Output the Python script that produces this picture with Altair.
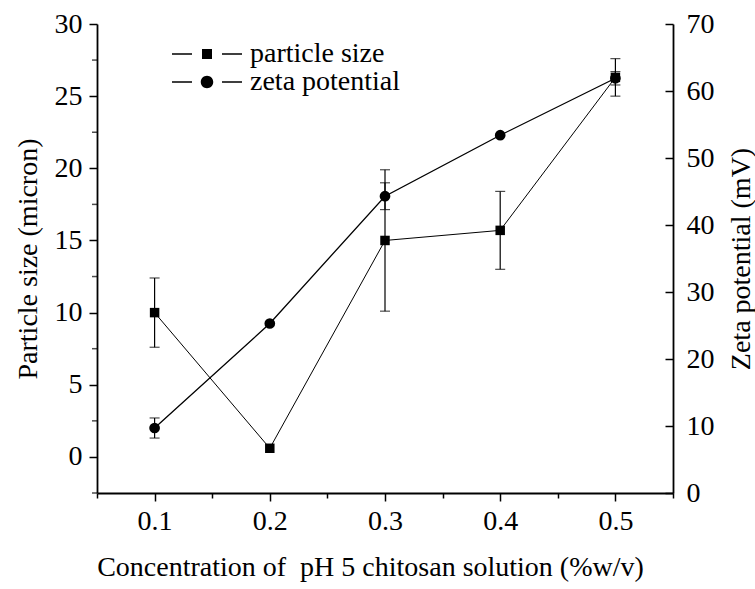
import altair as alt
import pandas as pd

conc = [0.1, 0.2, 0.3, 0.4, 0.5]
size_vals = [10.0, 0.6, 15.0, 15.7, 26.3]
size_err = [2.4, 0.0, 4.9, 2.7, 1.3]
zeta_vals = [9.7, 25.3, 44.3, 53.4, 61.9]
zeta_err = [1.5, 0.0, 2.0, 0.0, 1.0]

series_names = ["particle size", "zeta potential"]
x_ticks = [0.05, 0.1, 0.15, 0.2, 0.25, 0.3, 0.35, 0.4, 0.45, 0.5, 0.55]
left_major = [0, 5, 10, 15, 20, 25, 30]
left_minor = [-2.5, 2.5, 7.5, 12.5, 17.5, 22.5, 27.5]
right_ticks = [0, 5, 10, 15, 20, 25, 30, 35, 40, 45, 50, 55, 60, 65, 70]

FONT = "Liberation Serif"
FS = 28

ps = pd.DataFrame({"conc": conc, "val": size_vals, "err": size_err, "series": series_names[0]})
ps["lo"] = ps["val"] - ps["err"]
ps["hi"] = ps["val"] + ps["err"]
ps_e = ps[ps["err"] > 0]

zp = pd.DataFrame({"conc": conc, "val": zeta_vals, "err": zeta_err, "series": series_names[1]})
zp["lo"] = zp["val"] - zp["err"]
zp["hi"] = zp["val"] + zp["err"]
zp_e = zp[zp["err"] > 0]

leg = pd.DataFrame({"series": series_names, "conc": [0.1, 0.1], "val": [0.0, 0.0]})
minor_df = pd.DataFrame({"val": left_minor})

x_enc = alt.X(
    "conc:Q",
    scale=alt.Scale(domain=[0.05, 0.55], nice=False, zero=False),
    axis=alt.Axis(
        title="Concentration of\u00a0 pH 5 chitosan solution (%w/v)",
        values=x_ticks,
        labelExpr="round(datum.value*20) % 2 === 0 ? format(datum.value, '.1f') : ''",
        tickSize={"condition": {"test": "round(datum.value*20) % 2 === 0", "value": 8}, "value": 5},
        labelPadding=6,
        titlePadding=18,
        titleX=273,
    ),
)

left_scale = alt.Scale(domain=[-2.5, 30], nice=False, zero=False)
right_scale = alt.Scale(domain=[0, 70], nice=False, zero=False)

left_axis = alt.Axis(
    title="Particle size (micron)",
    orient="left",
    values=left_major,
    format="d",
    tickSize=8,
    labelPadding=7,
    titlePadding=12,
    labelOverlap=False,
)
right_axis = alt.Axis(
    title="Zeta potential (mV)",
    orient="right",
    values=right_ticks,
    labelExpr="datum.value % 10 === 0 ? datum.label : ''",
    tickSize={"condition": {"test": "datum.value % 10 === 0", "value": -8}, "value": -5},
    labelPadding=21,
    titlePadding=13,
    titleAngle=270,
    titleBaseline="top",
)

legend_scale = alt.Scale(
    domain=series_names,
    range=[
        "M-7,-0.15H-3V0.15H-7ZM3,-0.15H7V0.15H3ZM-1,-1H1V1H-1Z",
        "M-7,-0.15H-3V0.15H-7ZM3,-0.15H7V0.15H3ZM-1.25,0A1.25,1.25,0,1,1,1.25,0A1.25,1.25,0,1,1,-1.25,0Z",
    ],
)
legend = alt.Legend(
    title=None,
    orient="none",
    legendX=96,
    legendY=16,
    labelFont=FONT,
    labelFontSize=FS,
    labelColor="black",
    labelOffset=29,
    symbolSize=100,
    symbolFillColor="black",
    symbolStrokeColor="black",
    symbolStrokeWidth=0,
    symbolOpacity=1,
    rowPadding=0,
    padding=0,
)

# particle size layers (left axis)
ps_line = alt.Chart(ps).mark_line(color="black", strokeWidth=1).encode(
    x=x_enc, y=alt.Y("val:Q", scale=left_scale, axis=left_axis)
)
ps_rule = alt.Chart(ps_e).mark_rule(color="black", strokeWidth=1.2).encode(
    x="conc:Q", y="lo:Q", y2="hi:Q"
)
ps_cap_lo = alt.Chart(ps_e).mark_tick(color="black", orient="horizontal", size=10, thickness=1.2).encode(
    x="conc:Q", y="lo:Q"
)
ps_cap_hi = alt.Chart(ps_e).mark_tick(color="black", orient="horizontal", size=10, thickness=1.2).encode(
    x="conc:Q", y="hi:Q"
)
ps_pt = alt.Chart(ps).mark_point(filled=True, color="black", opacity=1, size=90, shape="square").encode(
    x="conc:Q", y="val:Q"
)
# minor ticks of the left axis, placed through the scales at the axis edge
ps_minor = alt.Chart(minor_df).mark_tick(
    color="black", orient="horizontal", size=5, thickness=1.5, xOffset=-2.5
).encode(x=alt.datum(0.05), y="val:Q")
left = alt.layer(ps_line, ps_rule, ps_cap_lo, ps_cap_hi, ps_pt, ps_minor)

# zeta potential layers (right axis)
z_line = alt.Chart(zp).mark_line(color="black", strokeWidth=1.3).encode(
    x="conc:Q", y=alt.Y("val:Q", scale=right_scale, axis=right_axis)
)
z_rule = alt.Chart(zp_e).mark_rule(color="black", strokeWidth=1.2).encode(
    x="conc:Q", y="lo:Q", y2="hi:Q"
)
z_cap_lo = alt.Chart(zp_e).mark_tick(color="black", orient="horizontal", size=10, thickness=1.2).encode(
    x="conc:Q", y="lo:Q"
)
z_cap_hi = alt.Chart(zp_e).mark_tick(color="black", orient="horizontal", size=10, thickness=1.2).encode(
    x="conc:Q", y="hi:Q"
)
z_pt = alt.Chart(zp).mark_point(filled=True, color="black", opacity=1, size=115, shape="circle").encode(
    x="conc:Q", y="val:Q"
)
right = alt.layer(z_line, z_rule, z_cap_lo, z_cap_hi, z_pt)

# legend-only layer (no marks drawn, legend entries from explicit domain)
legend_layer = (
    alt.Chart(leg)
    .transform_filter("false")
    .mark_point(filled=True, color="black", opacity=1)
    .encode(
        x="conc:Q",
        y=alt.Y("val:Q", axis=None, scale=alt.Scale(domain=[0, 1])),
        shape=alt.Shape("series:N", scale=legend_scale, legend=legend),
    )
)

chart = (
    alt.layer(left, right, legend_layer)
    .resolve_scale(y="independent")
    .properties(
        width=576,
        height=469,
        autosize=alt.AutoSizeParams(type="none"),
        padding={"left": 97, "top": 24, "right": 82, "bottom": 96},
        background="white",
    )
    .configure_view(stroke=None)
    .configure_axis(
        grid=False,
        domainColor="black",
        domainWidth=1.8,
        tickColor="black",
        tickWidth=1.5,
        labelFont=FONT,
        labelFontSize=FS,
        labelColor="black",
        titleFont=FONT,
        titleFontSize=FS,
        titleFontWeight="normal",
        titleColor="black",
    )
)

chart.save("out.html", embed_options={"renderer": "svg", "actions": False})
